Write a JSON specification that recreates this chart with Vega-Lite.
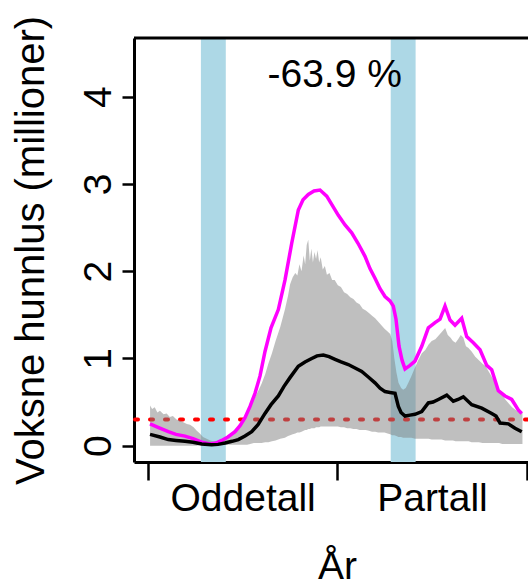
{
  "$schema": "https://vega.github.io/schema/vega-lite/v6.json",
  "width": 394,
  "height": 424,
  "autosize": {"type": "none"},
  "padding": {"left": 134, "top": 38, "right": 0, "bottom": 125},
  "background": "white",
  "config": {
    "view": {"stroke": null},
    "font": "Liberation Sans",
    "axis": {"grid": false, "domainColor": "black", "tickColor": "black", "labelColor": "black", "titleColor": "black", "labelFont": "Liberation Sans", "titleFont": "Liberation Sans", "titleFontWeight": "normal"}
  },
  "datasets": {
    "bands": [{"start": 102, "end": 150}, {"start": 468, "end": 516}],
    "grey": [
      {"d": 4, "lo": 0.0, "hi": 0.46}, {"d": 8, "lo": 0.0, "hi": 0.42}, {"d": 13, "lo": 0.0, "hi": 0.44}, {"d": 18, "lo": 0.0, "hi": 0.38},
      {"d": 23, "lo": 0.0, "hi": 0.4}, {"d": 30, "lo": 0.0, "hi": 0.36}, {"d": 36, "lo": 0.0, "hi": 0.37}, {"d": 42, "lo": 0.0, "hi": 0.33},
      {"d": 48, "lo": 0.0, "hi": 0.34}, {"d": 55, "lo": 0.0, "hi": 0.3}, {"d": 62, "lo": 0.0, "hi": 0.29}, {"d": 68, "lo": 0.0, "hi": 0.27},
      {"d": 75, "lo": 0.0, "hi": 0.25}, {"d": 81, "lo": 0.0, "hi": 0.24}, {"d": 88, "lo": 0.0, "hi": 0.21}, {"d": 94, "lo": 0.0, "hi": 0.17},
      {"d": 100, "lo": 0.01, "hi": 0.14}, {"d": 106, "lo": 0.01, "hi": 0.1}, {"d": 113, "lo": 0.01, "hi": 0.08}, {"d": 120, "lo": 0.01, "hi": 0.06},
      {"d": 126, "lo": 0.01, "hi": 0.05}, {"d": 132, "lo": 0.01, "hi": 0.05}, {"d": 139, "lo": 0.01, "hi": 0.06}, {"d": 146, "lo": 0.01, "hi": 0.08},
      {"d": 152, "lo": 0.01, "hi": 0.1}, {"d": 158, "lo": 0.01, "hi": 0.13}, {"d": 165, "lo": 0.01, "hi": 0.17}, {"d": 172, "lo": 0.01, "hi": 0.21},
      {"d": 178, "lo": 0.01, "hi": 0.25}, {"d": 185, "lo": 0.01, "hi": 0.31}, {"d": 191, "lo": 0.01, "hi": 0.38}, {"d": 197, "lo": 0.02, "hi": 0.45},
      {"d": 204, "lo": 0.03, "hi": 0.53}, {"d": 212, "lo": 0.03, "hi": 0.62}, {"d": 219, "lo": 0.03, "hi": 0.71}, {"d": 226, "lo": 0.04, "hi": 0.82},
      {"d": 232, "lo": 0.04, "hi": 0.94}, {"d": 239, "lo": 0.05, "hi": 1.06}, {"d": 246, "lo": 0.06, "hi": 1.2}, {"d": 255, "lo": 0.08, "hi": 1.36},
      {"d": 264, "lo": 0.09, "hi": 1.56}, {"d": 270, "lo": 0.11, "hi": 1.72}, {"d": 274, "lo": 0.12, "hi": 1.85}, {"d": 279, "lo": 0.13, "hi": 1.93},
      {"d": 284, "lo": 0.14, "hi": 1.98}, {"d": 288, "lo": 0.15, "hi": 1.95}, {"d": 292, "lo": 0.15, "hi": 2.08}, {"d": 296, "lo": 0.16, "hi": 2.0},
      {"d": 300, "lo": 0.17, "hi": 2.18}, {"d": 303, "lo": 0.18, "hi": 2.08}, {"d": 306, "lo": 0.18, "hi": 2.3}, {"d": 309, "lo": 0.19, "hi": 2.36},
      {"d": 312, "lo": 0.19, "hi": 2.12}, {"d": 315, "lo": 0.2, "hi": 2.26}, {"d": 318, "lo": 0.2, "hi": 2.1}, {"d": 321, "lo": 0.2, "hi": 2.22},
      {"d": 324, "lo": 0.21, "hi": 2.14}, {"d": 327, "lo": 0.21, "hi": 2.24}, {"d": 330, "lo": 0.21, "hi": 2.1}, {"d": 333, "lo": 0.22, "hi": 2.16},
      {"d": 337, "lo": 0.22, "hi": 2.02}, {"d": 341, "lo": 0.22, "hi": 2.06}, {"d": 345, "lo": 0.22, "hi": 1.96}, {"d": 350, "lo": 0.22, "hi": 1.98},
      {"d": 355, "lo": 0.22, "hi": 1.9}, {"d": 360, "lo": 0.22, "hi": 1.9}, {"d": 366, "lo": 0.22, "hi": 1.84}, {"d": 372, "lo": 0.21, "hi": 1.82},
      {"d": 378, "lo": 0.21, "hi": 1.76}, {"d": 384, "lo": 0.2, "hi": 1.74}, {"d": 390, "lo": 0.2, "hi": 1.7}, {"d": 396, "lo": 0.19, "hi": 1.68},
      {"d": 402, "lo": 0.19, "hi": 1.64}, {"d": 408, "lo": 0.18, "hi": 1.62}, {"d": 414, "lo": 0.18, "hi": 1.57}, {"d": 420, "lo": 0.18, "hi": 1.55},
      {"d": 426, "lo": 0.17, "hi": 1.52}, {"d": 432, "lo": 0.16, "hi": 1.49}, {"d": 438, "lo": 0.16, "hi": 1.46}, {"d": 444, "lo": 0.15, "hi": 1.42},
      {"d": 450, "lo": 0.15, "hi": 1.38}, {"d": 456, "lo": 0.15, "hi": 1.34}, {"d": 462, "lo": 0.14, "hi": 1.31}, {"d": 467, "lo": 0.13, "hi": 1.28},
      {"d": 471, "lo": 0.12, "hi": 1.2}, {"d": 475, "lo": 0.12, "hi": 1.0}, {"d": 479, "lo": 0.11, "hi": 0.84}, {"d": 483, "lo": 0.1, "hi": 0.72},
      {"d": 488, "lo": 0.1, "hi": 0.66}, {"d": 492, "lo": 0.09, "hi": 0.64}, {"d": 497, "lo": 0.09, "hi": 0.66}, {"d": 502, "lo": 0.09, "hi": 0.72},
      {"d": 508, "lo": 0.09, "hi": 0.8}, {"d": 515, "lo": 0.08, "hi": 0.9}, {"d": 521, "lo": 0.08, "hi": 0.98}, {"d": 528, "lo": 0.08, "hi": 1.06},
      {"d": 535, "lo": 0.08, "hi": 1.1}, {"d": 541, "lo": 0.08, "hi": 1.16}, {"d": 547, "lo": 0.07, "hi": 1.2}, {"d": 554, "lo": 0.07, "hi": 1.22},
      {"d": 560, "lo": 0.07, "hi": 1.26}, {"d": 566, "lo": 0.07, "hi": 1.3}, {"d": 573, "lo": 0.06, "hi": 1.35}, {"d": 578, "lo": 0.06, "hi": 1.27},
      {"d": 583, "lo": 0.06, "hi": 1.24}, {"d": 588, "lo": 0.06, "hi": 1.2}, {"d": 593, "lo": 0.05, "hi": 1.18}, {"d": 598, "lo": 0.05, "hi": 1.22},
      {"d": 603, "lo": 0.05, "hi": 1.27}, {"d": 608, "lo": 0.05, "hi": 1.24}, {"d": 613, "lo": 0.05, "hi": 1.14}, {"d": 618, "lo": 0.05, "hi": 1.12},
      {"d": 624, "lo": 0.04, "hi": 1.08}, {"d": 631, "lo": 0.04, "hi": 1.02}, {"d": 638, "lo": 0.04, "hi": 0.98}, {"d": 645, "lo": 0.03, "hi": 0.94},
      {"d": 651, "lo": 0.03, "hi": 0.91}, {"d": 658, "lo": 0.03, "hi": 0.84}, {"d": 664, "lo": 0.03, "hi": 0.78}, {"d": 670, "lo": 0.03, "hi": 0.72},
      {"d": 677, "lo": 0.03, "hi": 0.63}, {"d": 683, "lo": 0.02, "hi": 0.58}, {"d": 689, "lo": 0.02, "hi": 0.53}, {"d": 696, "lo": 0.02, "hi": 0.48},
      {"d": 702, "lo": 0.02, "hi": 0.44}, {"d": 709, "lo": 0.02, "hi": 0.41}, {"d": 715, "lo": 0.02, "hi": 0.39}, {"d": 722, "lo": 0.02, "hi": 0.38}
    ],
    "magenta": [
      {"d": 3.9, "v": 0.25}, {"d": 19.3, "v": 0.21}, {"d": 39.1, "v": 0.16}, {"d": 54, "v": 0.13}, {"d": 71.3, "v": 0.11},
      {"d": 86.8, "v": 0.08}, {"d": 103.5, "v": 0.04}, {"d": 119.6, "v": 0.02}, {"d": 131, "v": 0.03}, {"d": 142, "v": 0.06},
      {"d": 154, "v": 0.1}, {"d": 167.8, "v": 0.16}, {"d": 177.4, "v": 0.23}, {"d": 187, "v": 0.32}, {"d": 196.7, "v": 0.45},
      {"d": 206.3, "v": 0.6}, {"d": 216, "v": 0.8}, {"d": 225.6, "v": 1.08}, {"d": 237.2, "v": 1.35}, {"d": 251.3, "v": 1.56},
      {"d": 264.2, "v": 1.9}, {"d": 277.1, "v": 2.32}, {"d": 289.8, "v": 2.7}, {"d": 298.9, "v": 2.82}, {"d": 309.1, "v": 2.88},
      {"d": 320.1, "v": 2.92}, {"d": 331.7, "v": 2.93}, {"d": 337.4, "v": 2.9}, {"d": 344.6, "v": 2.86}, {"d": 354.8, "v": 2.76},
      {"d": 367, "v": 2.64}, {"d": 379.9, "v": 2.53}, {"d": 392.8, "v": 2.44}, {"d": 404.9, "v": 2.32}, {"d": 418.4, "v": 2.17},
      {"d": 428, "v": 2.03}, {"d": 437.7, "v": 1.92}, {"d": 447.4, "v": 1.8}, {"d": 457, "v": 1.71}, {"d": 466.6, "v": 1.66},
      {"d": 473, "v": 1.6}, {"d": 478.2, "v": 1.45}, {"d": 484, "v": 1.14}, {"d": 489.8, "v": 0.98}, {"d": 495.6, "v": 0.88},
      {"d": 505.2, "v": 0.92}, {"d": 514.8, "v": 0.97}, {"d": 527.8, "v": 1.14}, {"d": 540.5, "v": 1.35}, {"d": 553.4, "v": 1.41},
      {"d": 563.1, "v": 1.45}, {"d": 572.7, "v": 1.6}, {"d": 582.3, "v": 1.44}, {"d": 592, "v": 1.38}, {"d": 604.9, "v": 1.46},
      {"d": 614.5, "v": 1.25}, {"d": 627.3, "v": 1.18}, {"d": 640.2, "v": 1.1}, {"d": 653.1, "v": 0.92}, {"d": 662.7, "v": 0.87},
      {"d": 675.5, "v": 0.63}, {"d": 688.4, "v": 0.57}, {"d": 701.3, "v": 0.53}, {"d": 714, "v": 0.41}, {"d": 720.6, "v": 0.37}
    ],
    "median": [
      {"d": 3.9, "v": 0.13}, {"d": 23.1, "v": 0.1}, {"d": 39.1, "v": 0.07}, {"d": 54, "v": 0.06}, {"d": 71.3, "v": 0.05},
      {"d": 86.8, "v": 0.04}, {"d": 103.5, "v": 0.02}, {"d": 122.8, "v": 0.01}, {"d": 135, "v": 0.015}, {"d": 148.5, "v": 0.03},
      {"d": 162, "v": 0.05}, {"d": 174.1, "v": 0.07}, {"d": 187, "v": 0.11}, {"d": 200, "v": 0.16}, {"d": 212.1, "v": 0.24},
      {"d": 225.6, "v": 0.37}, {"d": 237.2, "v": 0.47}, {"d": 251.3, "v": 0.57}, {"d": 262.2, "v": 0.68}, {"d": 273.8, "v": 0.78},
      {"d": 289.8, "v": 0.91}, {"d": 302.7, "v": 0.96}, {"d": 315.7, "v": 1.0}, {"d": 325.9, "v": 1.03}, {"d": 338, "v": 1.04},
      {"d": 349, "v": 1.02}, {"d": 360.6, "v": 0.99}, {"d": 372.2, "v": 0.96}, {"d": 386.2, "v": 0.93}, {"d": 399.2, "v": 0.89},
      {"d": 412.1, "v": 0.85}, {"d": 424.2, "v": 0.79}, {"d": 437.7, "v": 0.72}, {"d": 447.4, "v": 0.66}, {"d": 457, "v": 0.62},
      {"d": 466.6, "v": 0.61}, {"d": 476.3, "v": 0.6}, {"d": 482.7, "v": 0.45}, {"d": 487.9, "v": 0.38}, {"d": 495.6, "v": 0.34},
      {"d": 505.2, "v": 0.35}, {"d": 514.8, "v": 0.36}, {"d": 527.8, "v": 0.39}, {"d": 540.5, "v": 0.49}, {"d": 549.6, "v": 0.5},
      {"d": 559.8, "v": 0.53}, {"d": 576, "v": 0.58}, {"d": 588.7, "v": 0.51}, {"d": 597.8, "v": 0.53}, {"d": 608, "v": 0.56},
      {"d": 624.2, "v": 0.47}, {"d": 643.5, "v": 0.43}, {"d": 662.7, "v": 0.37}, {"d": 671, "v": 0.34}, {"d": 678.8, "v": 0.26},
      {"d": 694.8, "v": 0.25}, {"d": 707.7, "v": 0.2}, {"d": 720.6, "v": 0.16}
    ],
    "label": [{"d": 360, "v": 4.108, "txt": "-63.9 %"}]
  },
  "layer": [
    {
      "data": {"name": "bands"},
      "mark": {"type": "rect", "color": "#ADD8E6"},
      "encoding": {
        "x": {"field": "start", "type": "quantitative", "scale": {"domain": [-27, 732.7], "nice": false, "zero": false},
          "axis": {
            "values": [0, 182.5, 365, 547.5, 730],
            "labelExpr": "datum.value == 182.5 ? 'Oddetall' : (datum.value == 547.5 ? 'Partall' : '')",
            "tickOpacity": {"condition": {"test": "datum.value == 182.5 || datum.value == 547.5", "value": 0}, "value": 1},
            "tickSize": 18, "tickWidth": 2.5, "domainWidth": 3,
            "labelFontSize": 39, "labelPadding": 30, "labelBaseline": "alphabetic", "labelAlign": "center",
            "labelFlush": false, "labelOverlap": false, "labelBound": false,
            "title": "År", "titleFontSize": 39, "titleX": 203, "titleY": 116, "titleAlign": "center", "titleBaseline": "alphabetic", "titleAnchor": null
          }
        },
        "x2": {"field": "end"}
      }
    },
    {
      "data": {"values": [{}]},
      "mark": {"type": "rule", "color": "red", "strokeWidth": 4, "strokeDash": [3, 12], "strokeCap": "round"},
      "encoding": {
        "y": {"datum": 0.3, "type": "quantitative", "scale": {"domain": [-0.187, 4.673], "nice": false, "zero": false},
          "axis": {
            "values": [0, 1, 2, 3, 4], "format": "d", "tickSize": 12, "tickWidth": 2.5, "domainWidth": 3,
            "labelAngle": -90, "labelAlign": "center", "labelBaseline": "alphabetic", "labelPadding": 12, "labelFontSize": 39,
            "labelFlush": false, "labelOverlap": false,
            "title": "Voksne hunnlus (millioner)", "titleFontSize": 40, "titleAngle": -90, "titleX": -91, "titleY": 212,
            "titleAlign": "center", "titleBaseline": "alphabetic"
          }
        }
      }
    },
    {
      "data": {"name": "grey"},
      "mark": {"type": "area", "color": "#7f7f7f", "opacity": 0.5},
      "encoding": {
        "x": {"field": "d", "type": "quantitative"},
        "y": {"field": "lo", "type": "quantitative"},
        "y2": {"field": "hi"}
      }
    },
    {
      "data": {"name": "magenta"},
      "mark": {"type": "line", "color": "#ff00ff", "strokeWidth": 3.5},
      "encoding": {
        "x": {"field": "d", "type": "quantitative"},
        "y": {"field": "v", "type": "quantitative"}
      }
    },
    {
      "data": {"name": "median"},
      "mark": {"type": "line", "color": "black", "strokeWidth": 3.5},
      "encoding": {
        "x": {"field": "d", "type": "quantitative"},
        "y": {"field": "v", "type": "quantitative"}
      }
    },
    {
      "data": {"name": "label"},
      "mark": {"type": "text", "fontSize": 39, "font": "Liberation Sans", "align": "center", "baseline": "alphabetic", "color": "black"},
      "encoding": {
        "x": {"field": "d", "type": "quantitative"},
        "y": {"field": "v", "type": "quantitative"},
        "text": {"field": "txt"}
      }
    },
    {
      "data": {"values": [{}]},
      "mark": {"type": "rule", "color": "black", "strokeWidth": 3},
      "encoding": {"y": {"datum": 4.673, "type": "quantitative"}}
    }
  ]
}
